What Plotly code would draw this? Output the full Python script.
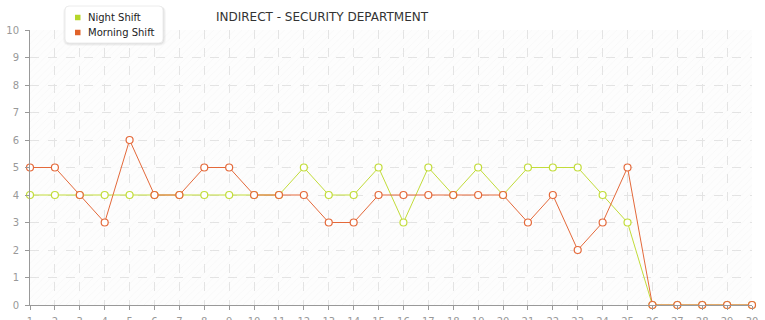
import plotly.graph_objects as go

days = list(range(1, 31))
night_shift = [4, 4, 4, 4, 4, 4, 4, 4, 4, 4, 4, 5, 4, 4, 5, 3, 5, 4, 5, 4, 5, 5, 5, 4, 3, 0, 0, 0, 0, 0]
morning_shift = [5, 5, 4, 3, 6, 4, 4, 5, 5, 4, 4, 4, 3, 3, 4, 4, 4, 4, 4, 4, 3, 4, 2, 3, 5, 0, 0, 0, 0, 0]
y_ticks = list(range(0, 11))
series_names = ["Night Shift", "Morning Shift"]

NIGHT = "#c2dc3a"
MORNING = "#e4693a"
SWATCH = ["#b5d62a", "#e0622a"]
FONT = "DejaVu Sans"

W, H = 765, 320
L, R, T, B = 30, 13, 30, 15
PW, PH = W - L - R, H - T - B


def px(x):
    return (x - L) / PW


def py(y):
    return (H - B - y) / PH


fig = go.Figure()

# subtle hatched plot background
x_lo, x_hi = days[0], days[-1]
y_lo, y_hi = y_ticks[0], y_ticks[-1]
fig.add_trace(go.Scatter(
    x=[x_lo, x_hi, x_hi, x_lo, x_lo], y=[y_lo, y_lo, y_hi, y_hi, y_lo],
    mode="none", fill="toself", fillcolor="rgba(0,0,0,0)",
    fillpattern=dict(shape="/", fgcolor="#ececec", bgcolor="rgba(0,0,0,0)", size=5, solidity=0.12),
    hoverinfo="skip", showlegend=False,
))

fig.add_trace(go.Scatter(
    x=days, y=night_shift, mode="lines+markers", name=series_names[0],
    line=dict(color=NIGHT, width=1),
    marker=dict(size=7, color="white", line=dict(color=NIGHT, width=1.2)),
    showlegend=False, cliponaxis=False,
))
fig.add_trace(go.Scatter(
    x=days, y=morning_shift, mode="lines+markers", name=series_names[1],
    line=dict(color=MORNING, width=1),
    marker=dict(size=7, color="white", line=dict(color=MORNING, width=1.2)),
    showlegend=False, cliponaxis=False,
))

# custom legend box (shadow + box), swatches and labels
shapes = []
def rounded(x0, y0, x1, y1, r):
    X0, X1 = px(x0), px(x1)
    Y0, Y1 = py(y0), py(y1)
    rx, ry = r / PW, r / PH
    return (f"M {X0+rx},{Y0} L {X1-rx},{Y0} Q {X1},{Y0} {X1},{Y0-ry} "
            f"L {X1},{Y1+ry} Q {X1},{Y1} {X1-rx},{Y1} L {X0+rx},{Y1} "
            f"Q {X0},{Y1} {X0},{Y1+ry} L {X0},{Y0-ry} Q {X0},{Y0} {X0+rx},{Y0} Z")

for i, a in enumerate([0.05, 0.04, 0.03]):
    d = i + 1
    shapes.append(dict(type="path", xref="paper", yref="paper",
                       path=rounded(65 - d + 1, 6, 163 + d, 43 + d, 4 + d),
                       fillcolor=f"rgba(0,0,0,{a})", line=dict(width=0), layer="above"))
shapes.append(dict(type="path", xref="paper", yref="paper",
                   path=rounded(65, 6, 163, 43, 4),
                   fillcolor="white", line=dict(color="#ececec", width=1), layer="above"))
legend_rows = [17.5, 32.5]
for color, yc in zip(SWATCH, legend_rows):
    shapes.append(dict(type="rect", xref="paper", yref="paper",
                       x0=px(75), x1=px(80.5), y0=py(yc - 2.75), y1=py(yc + 2.75),
                       fillcolor=color, line=dict(width=0), layer="above"))

annotations = []
for name, yc in zip(series_names, legend_rows):
    annotations.append(dict(text=name, xref="paper", yref="paper", x=px(86), y=py(yc),
                            xanchor="left", yanchor="middle", showarrow=False,
                            font=dict(family=FONT, size=10, color="#222222")))

fig.update_layout(
    width=W, height=H,
    margin=dict(l=L, r=R, t=T, b=B, autoexpand=False),
    paper_bgcolor="white",
    plot_bgcolor="#fdfdfd",
    font=dict(family=FONT, size=10, color="#999999"),
    title=dict(text="INDIRECT - SECURITY DEPARTMENT", x=px(322), xref="paper", xanchor="center",
               y=1 - 17 / H, yanchor="middle",
               font=dict(family=FONT, size=12, color="#333333")),
    showlegend=False,
    shapes=shapes,
    annotations=annotations,
    xaxis=dict(range=[x_lo, x_hi], tickmode="array", tickvals=days, ticktext=[str(d) for d in days],
               showgrid=True, gridcolor="#e3e3e3", griddash="dash", gridwidth=1,
               showline=True, linecolor="#999999", linewidth=1,
               ticks="outside", ticklen=4, tickcolor="#999999", ticklabelstandoff=3,
               zeroline=False, fixedrange=True, automargin=False),
    yaxis=dict(range=[y_lo, y_hi], tickmode="array", tickvals=y_ticks,
               showgrid=True, gridcolor="#e3e3e3", griddash="dash", gridwidth=1,
               showline=True, linecolor="#999999", linewidth=1,
               ticks="outside", ticklen=4, tickcolor="#999999", ticklabelstandoff=4,
               zeroline=False, fixedrange=True, automargin=False),
)

fig.write_html("out.html")
